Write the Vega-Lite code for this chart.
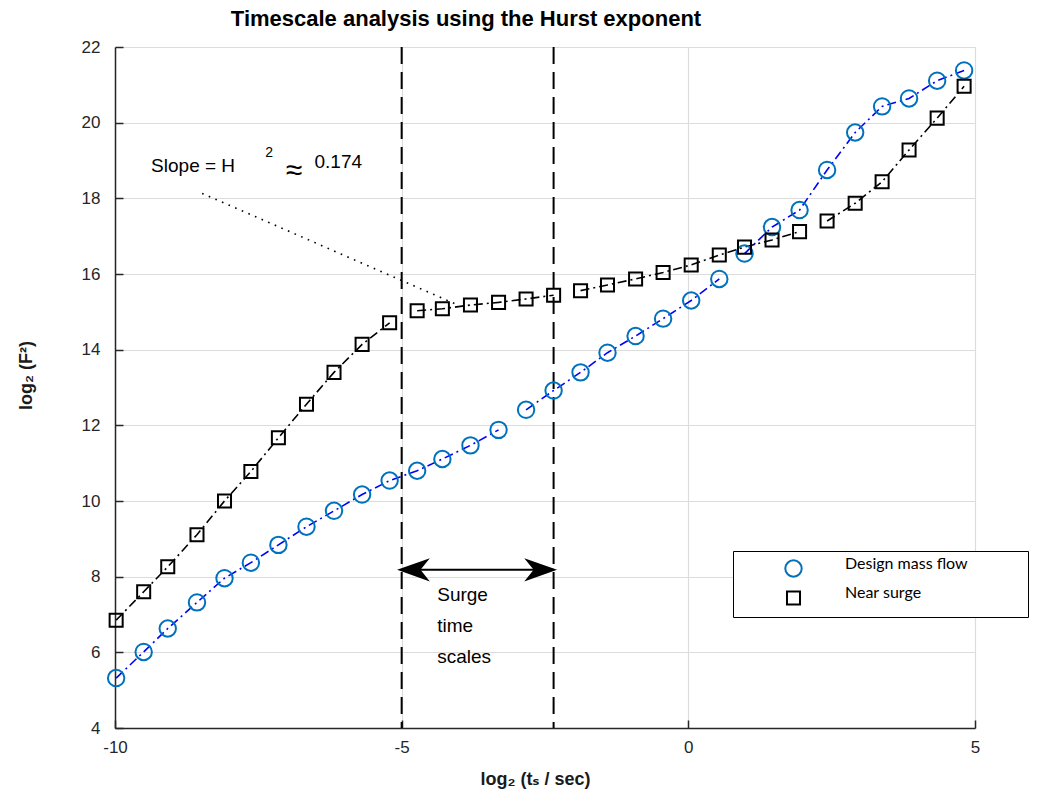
{
  "$schema": "https://vega.github.io/schema/vega-lite/v6.json",
  "autosize": {"type": "none"},
  "width": 860,
  "height": 681,
  "padding": {"left": 115, "top": 47, "right": 63, "bottom": 71},
  "background": "white",
  "config": {
    "font": "Liberation Sans, DejaVu Sans",
    "view": {"stroke": null},
    "axis": {
      "domainColor": "#262626",
      "domainWidth": 1.5,
      "tickColor": "#262626",
      "tickWidth": 1.5,
      "tickSize": -8,
      "labelFontSize": 17,
      "labelColor": "#262626",
      "labelFlush": false,
      "gridColor": "#dcdcdc",
      "gridWidth": 1.2,
      "titleFontSize": 18,
      "titleFontWeight": "bold",
      "titleColor": "#1a1a1a"
    }
  },
  "title": {
    "text": "Timescale analysis using the Hurst exponent",
    "fontSize": 22,
    "fontWeight": "bold",
    "color": "#000000",
    "anchor": "middle",
    "frame": "group",
    "dx": -79,
    "offset": 7
  },
  "datasets": {
    "pts": [
      {"x": -9.98, "y": 5.32, "series": "Design mass flow", "seg": "D1"},
      {"x": -9.50, "y": 6.01, "series": "Design mass flow", "seg": "D1"},
      {"x": -9.08, "y": 6.63, "series": "Design mass flow", "seg": "D1"},
      {"x": -8.57, "y": 7.32, "series": "Design mass flow", "seg": "D1"},
      {"x": -8.09, "y": 7.96, "series": "Design mass flow", "seg": "D1"},
      {"x": -7.63, "y": 8.37, "series": "Design mass flow", "seg": "D1"},
      {"x": -7.15, "y": 8.84, "series": "Design mass flow", "seg": "D1"},
      {"x": -6.66, "y": 9.32, "series": "Design mass flow", "seg": "D1"},
      {"x": -6.18, "y": 9.74, "series": "Design mass flow", "seg": "D1"},
      {"x": -5.69, "y": 10.17, "series": "Design mass flow", "seg": "D1"},
      {"x": -5.21, "y": 10.54, "series": "Design mass flow", "seg": "D1"},
      {"x": -4.73, "y": 10.80, "series": "Design mass flow", "seg": "D1"},
      {"x": -4.29, "y": 11.11, "series": "Design mass flow", "seg": "D1"},
      {"x": -3.80, "y": 11.47, "series": "Design mass flow", "seg": "D1"},
      {"x": -3.31, "y": 11.88, "series": "Design mass flow", "seg": "D1"},
      {"x": -2.83, "y": 12.41, "series": "Design mass flow", "seg": "D2"},
      {"x": -2.35, "y": 12.92, "series": "Design mass flow", "seg": "D2"},
      {"x": -1.88, "y": 13.40, "series": "Design mass flow", "seg": "D2"},
      {"x": -1.41, "y": 13.92, "series": "Design mass flow", "seg": "D2"},
      {"x": -0.92, "y": 14.36, "series": "Design mass flow", "seg": "D2"},
      {"x": -0.44, "y": 14.82, "series": "Design mass flow", "seg": "D2"},
      {"x": 0.05, "y": 15.30, "series": "Design mass flow", "seg": "D2"},
      {"x": 0.54, "y": 15.87, "series": "Design mass flow", "seg": "D2"},
      {"x": 0.98, "y": 16.54, "series": "Design mass flow", "seg": "D3"},
      {"x": 1.46, "y": 17.24, "series": "Design mass flow", "seg": "D3"},
      {"x": 1.94, "y": 17.69, "series": "Design mass flow", "seg": "D3"},
      {"x": 2.42, "y": 18.75, "series": "Design mass flow", "seg": "D3"},
      {"x": 2.91, "y": 19.74, "series": "Design mass flow", "seg": "D3"},
      {"x": 3.38, "y": 20.43, "series": "Design mass flow", "seg": "D3"},
      {"x": 3.85, "y": 20.64, "series": "Design mass flow", "seg": "D3"},
      {"x": 4.34, "y": 21.11, "series": "Design mass flow", "seg": "D3"},
      {"x": 4.81, "y": 21.38, "series": "Design mass flow", "seg": "D3"},
      {"x": -9.98, "y": 6.85, "series": "Near surge", "seg": "N1"},
      {"x": -9.50, "y": 7.60, "series": "Near surge", "seg": "N1"},
      {"x": -9.08, "y": 8.26, "series": "Near surge", "seg": "N1"},
      {"x": -8.57, "y": 9.11, "series": "Near surge", "seg": "N1"},
      {"x": -8.09, "y": 10.00, "series": "Near surge", "seg": "N1"},
      {"x": -7.63, "y": 10.78, "series": "Near surge", "seg": "N1"},
      {"x": -7.15, "y": 11.67, "series": "Near surge", "seg": "N1"},
      {"x": -6.66, "y": 12.56, "series": "Near surge", "seg": "N1"},
      {"x": -6.18, "y": 13.40, "series": "Near surge", "seg": "N1"},
      {"x": -5.69, "y": 14.14, "series": "Near surge", "seg": "N1"},
      {"x": -5.21, "y": 14.71, "series": "Near surge", "seg": "N1"},
      {"x": -4.73, "y": 15.03, "series": "Near surge", "seg": "N2"},
      {"x": -4.29, "y": 15.08, "series": "Near surge", "seg": "N2"},
      {"x": -3.80, "y": 15.18, "series": "Near surge", "seg": "N2"},
      {"x": -3.31, "y": 15.25, "series": "Near surge", "seg": "N2"},
      {"x": -2.83, "y": 15.34, "series": "Near surge", "seg": "N2"},
      {"x": -2.35, "y": 15.44, "series": "Near surge", "seg": "N2"},
      {"x": -1.88, "y": 15.56, "series": "Near surge", "seg": "N3"},
      {"x": -1.41, "y": 15.71, "series": "Near surge", "seg": "N3"},
      {"x": -0.92, "y": 15.87, "series": "Near surge", "seg": "N3"},
      {"x": -0.44, "y": 16.04, "series": "Near surge", "seg": "N3"},
      {"x": 0.05, "y": 16.24, "series": "Near surge", "seg": "N3"},
      {"x": 0.54, "y": 16.50, "series": "Near surge", "seg": "N3"},
      {"x": 0.98, "y": 16.71, "series": "Near surge", "seg": "N3"},
      {"x": 1.46, "y": 16.90, "series": "Near surge", "seg": "N3"},
      {"x": 1.94, "y": 17.12, "series": "Near surge", "seg": "N3"},
      {"x": 2.42, "y": 17.40, "series": "Near surge", "seg": "N4"},
      {"x": 2.91, "y": 17.87, "series": "Near surge", "seg": "N4"},
      {"x": 3.38, "y": 18.44, "series": "Near surge", "seg": "N4"},
      {"x": 3.85, "y": 19.28, "series": "Near surge", "seg": "N4"},
      {"x": 4.34, "y": 20.12, "series": "Near surge", "seg": "N4"},
      {"x": 4.81, "y": 20.96, "series": "Near surge", "seg": "N4"}
    ],
    "vlines": [{"x": -5}, {"x": -2.35}],
    "slopeLine": [{"x": -8.48, "y": 18.13}, {"x": -4.05, "y": 15.2}],
    "span": [{"x": -5, "x2": -2.35, "y": 8.18}],
    "arrowL": [{"x": -5.08, "y": 8.18}],
    "arrowR": [{"x": -2.29, "y": 8.18}],
    "texts": [
      {"x": -9.37, "y": 18.69, "label": "Slope = H"},
      {"x": -6.52, "y": 18.80, "label": "0.174"},
      {"x": -4.38, "y": 7.37, "label": "Surge"},
      {"x": -4.38, "y": 6.55, "label": "time"},
      {"x": -4.38, "y": 5.73, "label": "scales"}
    ],
    "approx": [{"x": -7.02, "y": 18.49, "label": "≈"}],
    "sup": [{"x": -7.38, "y": 19.10, "label": "2"}]
  },
  "layer": [
    {
      "data": {"name": "vlines"},
      "mark": {"type": "rule", "color": "#000000", "strokeWidth": 2, "strokeDash": [17, 8]},
      "encoding": {
        "x": {
          "field": "x", "type": "quantitative",
          "scale": {"domain": [-10, 5], "nice": false, "zero": false},
          "axis": {
            "values": [-10, -5, 0, 5],
            "labelExpr": "'' + datum.value",
            "labelPadding": 19,
            "title": "log₂ (tₛ / sec)",
            "titleX": 420,
            "titleY": 56,
            "titleBaseline": "alphabetic"
          }
        }
      }
    },
    {
      "data": {"name": "pts"},
      "mark": {"type": "line", "strokeWidth": 1.6, "strokeDash": [9, 4, 2, 4]},
      "encoding": {
        "x": {"field": "x", "type": "quantitative"},
        "y": {
          "field": "y", "type": "quantitative",
          "scale": {"domain": [4, 22], "nice": false, "zero": false},
          "axis": {
            "values": [4, 6, 8, 10, 12, 14, 16, 18, 20, 22],
            "labelExpr": "'' + datum.value",
            "labelPadding": 23,
            "title": "log₂ (F²)",
            "titleAngle": -90,
            "titleX": -84,
            "titleY": 328,
            "titleBaseline": "alphabetic",
            "titleAlign": "center"
          }
        },
        "color": {
          "field": "seg", "type": "nominal",
          "scale": {
            "domain": ["D1", "D2", "D3", "N1", "N2", "N3", "N4"],
            "range": ["#0000ff", "#0000ff", "#0000ff", "#000000", "#000000", "#000000", "#000000"]
          },
          "legend": null
        }
      }
    },
    {
      "data": {"name": "pts"},
      "mark": {"type": "point", "filled": false, "strokeWidth": 2, "opacity": 1},
      "encoding": {
        "x": {"field": "x", "type": "quantitative"},
        "y": {"field": "y", "type": "quantitative"},
        "stroke": {
          "field": "series", "type": "nominal",
          "scale": {"domain": ["Design mass flow", "Near surge"], "range": ["#0072bd", "#000000"]},
          "legend": {
            "title": "\u00a0",
            "titleOrient": "right",
            "titlePadding": 52,
            "titleFontSize": 6,
            "orient": "none",
            "legendX": 618,
            "legendY": 504,
            "padding": 8,
            "strokeColor": "#000000",
            "fillColor": "#ffffff",
            "symbolOffset": 43,
            "symbolStrokeWidth": 2,
            "labelOffset": 42,
            "labelFont": "Lato",
            "labelFontSize": 16,
            "labelColor": "#000000",
            "labelBaseline": "alphabetic",
            "rowPadding": 4
          }
        },
        "shape": {
          "field": "series", "type": "nominal",
          "scale": {"domain": ["Design mass flow", "Near surge"], "range": ["circle", "square"]}
        },
        "size": {
          "field": "series", "type": "nominal",
          "scale": {"domain": ["Design mass flow", "Near surge"], "range": [270, 170]}
        }
      }
    },
    {
      "data": {"name": "slopeLine"},
      "mark": {"type": "line", "color": "#000000", "strokeWidth": 1.6, "strokeDash": [1.6, 5.6]},
      "encoding": {
        "x": {"field": "x", "type": "quantitative"},
        "y": {"field": "y", "type": "quantitative"}
      }
    },
    {
      "data": {"name": "span"},
      "mark": {"type": "rule", "color": "#000000", "strokeWidth": 2},
      "encoding": {
        "x": {"field": "x", "type": "quantitative"},
        "x2": {"field": "x2"},
        "y": {"field": "y", "type": "quantitative"}
      }
    },
    {
      "data": {"name": "arrowL"},
      "mark": {"type": "point", "shape": "M0,0 L2.8,-1 L2,0 L2.8,1 Z", "filled": true, "color": "#000000", "size": 548, "opacity": 1},
      "encoding": {
        "x": {"field": "x", "type": "quantitative"},
        "y": {"field": "y", "type": "quantitative"}
      }
    },
    {
      "data": {"name": "arrowR"},
      "mark": {"type": "point", "shape": "M0,0 L-2.8,-1 L-2,0 L-2.8,1 Z", "filled": true, "color": "#000000", "size": 548, "opacity": 1},
      "encoding": {
        "x": {"field": "x", "type": "quantitative"},
        "y": {"field": "y", "type": "quantitative"}
      }
    },
    {
      "data": {"name": "texts"},
      "mark": {"type": "text", "align": "left", "baseline": "alphabetic", "fontSize": 19, "color": "#000000"},
      "encoding": {
        "x": {"field": "x", "type": "quantitative"},
        "y": {"field": "y", "type": "quantitative"},
        "text": {"field": "label"}
      }
    },
    {
      "data": {"name": "approx"},
      "mark": {"type": "text", "align": "left", "baseline": "alphabetic", "fontSize": 30, "color": "#000000"},
      "encoding": {
        "x": {"field": "x", "type": "quantitative"},
        "y": {"field": "y", "type": "quantitative"},
        "text": {"field": "label"}
      }
    },
    {
      "data": {"name": "sup"},
      "mark": {"type": "text", "align": "left", "baseline": "alphabetic", "fontSize": 14, "color": "#000000"},
      "encoding": {
        "x": {"field": "x", "type": "quantitative"},
        "y": {"field": "y", "type": "quantitative"},
        "text": {"field": "label"}
      }
    }
  ]
}
